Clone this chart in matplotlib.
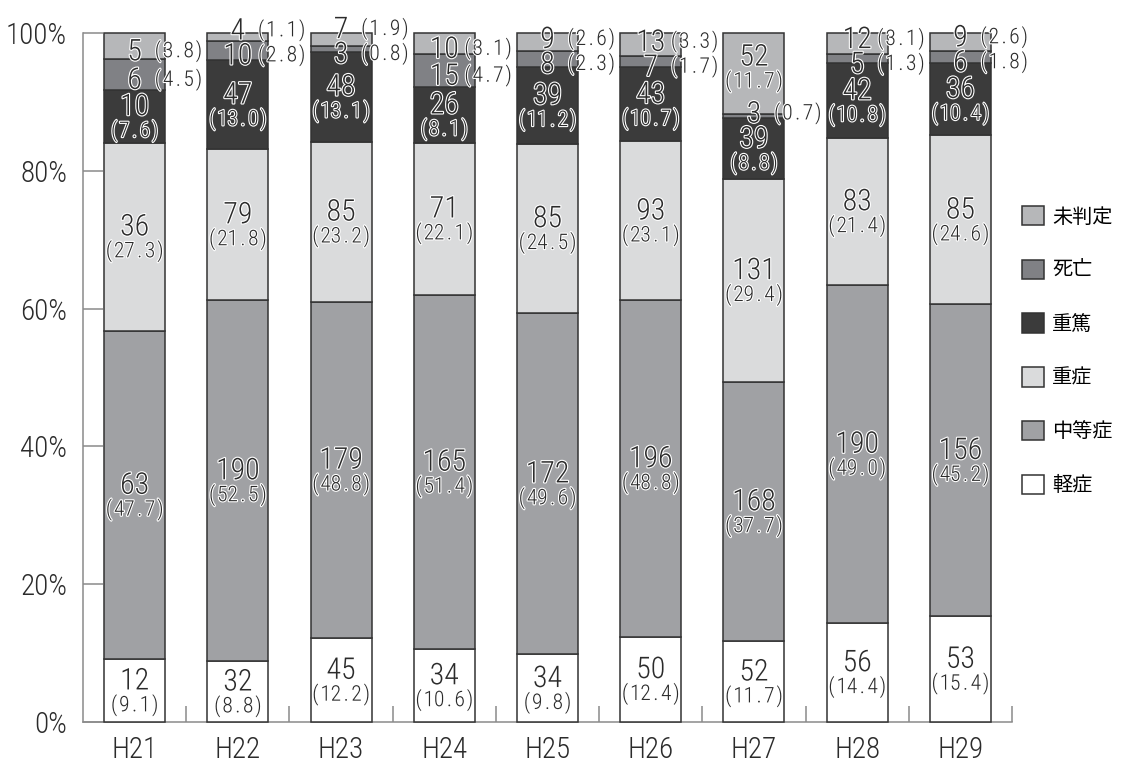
import numpy as np
import matplotlib
matplotlib.use("Agg")
import matplotlib.pyplot as plt
from matplotlib import font_manager as fm
from matplotlib import patheffects as pe
from matplotlib.patches import Patch

# ---- data: counts and shares (%) per fiscal year ----
years = ["H21", "H22", "H23", "H24", "H25", "H26", "H27", "H28", "H29"]
series_names = ["軽症", "中等症", "重症", "重篤", "死亡", "未判定"]

mild_n = [12, 32, 45, 34, 34, 50, 52, 56, 53]
mild_pct = [9.1, 8.8, 12.2, 10.6, 9.8, 12.4, 11.7, 14.4, 15.4]
moderate_n = [63, 190, 179, 165, 172, 196, 168, 190, 156]
moderate_pct = [47.7, 52.5, 48.8, 51.4, 49.6, 48.8, 37.7, 49.0, 45.2]
severe_n = [36, 79, 85, 71, 85, 93, 131, 83, 85]
severe_pct = [27.3, 21.8, 23.2, 22.1, 24.5, 23.1, 29.4, 21.4, 24.6]
critical_n = [10, 47, 48, 26, 39, 43, 39, 42, 36]
critical_pct = [7.6, 13.0, 13.1, 8.1, 11.2, 10.7, 8.8, 10.8, 10.4]
death_n = [6, 10, 3, 15, 8, 7, 3, 5, 6]
death_pct = [4.5, 2.8, 0.8, 4.7, 2.3, 1.7, 0.7, 1.3, 1.8]
undetermined_n = [5, 4, 7, 10, 9, 13, 52, 12, 9]
undetermined_pct = [3.8, 1.1, 1.9, 3.1, 2.6, 3.3, 11.7, 3.1, 2.6]

y_ticks = [0, 20, 40, 60, 80, 100]
y_tick_labels = ["0%", "20%", "40%", "60%", "80%", "100%"]

counts = [mild_n, moderate_n, severe_n, critical_n, death_n, undetermined_n]
shares = [mild_pct, moderate_pct, severe_pct, critical_pct, death_pct, undetermined_pct]
colors = ["#ffffff", "#a0a1a4", "#dadbdc", "#3b3b3b", "#808185", "#b6b7b9"]


# ---- fonts: prefer a light condensed sans for the numerals ----
def find_condensed():
    entries = fm.fontManager.ttflist

    def weight_of(f):
        w = f.weight
        if isinstance(w, str):
            w = {"light": 300, "normal": 400, "regular": 400, "book": 400}.get(w, 700)
        return w

    def pick(cands):
        for wanted in (300, 400):
            for f in cands:
                if f.style == "normal" and weight_of(f) == wanted:
                    return f.fname
        return None

    for name in ("Roboto Condensed", "Liberation Sans Narrow"):
        got = pick([f for f in entries if f.name == name])
        if got:
            return got
    for name in ("Roboto", "Noto Sans", "Open Sans", "DejaVu Sans"):
        for st in ("condensed", "semi-condensed"):
            got = pick([f for f in entries if f.name == name and f.stretch == st])
            if got:
                return got
    return fm.findfont(fm.FontProperties(family="Liberation Sans"))


NARROW_FILE = find_condensed()


def narrow(size):
    return fm.FontProperties(fname=NARROW_FILE, size=size)


CJK = ["Noto Sans CJK JP", "DejaVu Sans"]

INK = "#2b2b2b"
AXIS_GREY = "#8a8a8a"
EDGE = "#333333"
PX = 0.72  # points per pixel at 100 dpi

fig = plt.figure(figsize=(11.22, 7.64), dpi=100)
ax = fig.add_axes([83 / 1122, 1 - 722 / 764, 929 / 1122, 689 / 764])

x = np.arange(len(years))
bar_w = 0.59
bottom = np.zeros(len(years))
for vals, col in zip(shares, colors):
    ax.bar(x, vals, bottom=bottom, width=bar_w, color=col, edgecolor=EDGE,
           linewidth=1.1, clip_on=False, zorder=3)
    bottom += np.array(vals)

halo = [pe.withStroke(linewidth=1.6, foreground="white")]


def put(xv, yv, s, dx_px, dy_px, size, ha="center"):
    ax.annotate(s, (xv, yv), xytext=(dx_px * PX, dy_px * PX),
                textcoords="offset points", ha=ha, va="baseline",
                fontproperties=narrow(size), color=INK,
                path_effects=halo, annotation_clip=False, zorder=5)


NUM_SIZE = 21.5
PCT_SIZE = 15.5
CELL = 10.3          # fixed advance (px) for the bracketed share
NUM_HALF = 10.8      # half cap height of the count (px)
PCT_HALF = 7.7       # half digit height of the share (px)
NUM_UP = 12          # count sits this far above the segment middle (px)
PCT_DOWN = 13        # share sits this far below the segment middle (px)


def put_share(xv, yv, s, start_px, dy_px):
    for i, ch in enumerate(s):
        put(xv, yv, ch, start_px + (i + 0.5) * CELL, dy_px - PCT_HALF, PCT_SIZE)


px_per_pct = 689 / 100.0
gap = 25 / px_per_pct
bias = 0.5

for j in range(len(years)):
    base = 0.0
    last = -10.0
    for k in range(len(series_names)):
        n = counts[k][j]
        p = shares[k][j]
        center = base + p / 2
        txt = f"({p:.1f})"
        if p >= 5:
            # two-line label: count above, share below
            yc = max(center, last + (32 + PCT_DOWN) / px_per_pct)
            put(x[j], yc, str(n), 0, NUM_UP - NUM_HALF, NUM_SIZE)
            put_share(x[j], yc, txt, -len(txt) * CELL / 2, -PCT_DOWN)
            last = yc + NUM_UP / px_per_pct
        else:
            # single-line label running out to the right of the bar
            yv = max(center - bias, last + gap)
            put(x[j], yv, str(n), 0, -NUM_HALF, NUM_SIZE)
            put_share(x[j], yv, txt, 18, 0)
            last = yv
        base += p

# ---- axes styling ----
ax.set_xlim(-0.5, len(years) - 0.5)
ax.set_ylim(0, 100)
for side in ("top", "right"):
    ax.spines[side].set_visible(False)
for side in ("left", "bottom"):
    ax.spines[side].set_color(AXIS_GREY)
    ax.spines[side].set_linewidth(1.1)
ax.spines["left"].set_bounds(0, 100)

ax.set_yticks(y_ticks)
ax.set_yticklabels(y_tick_labels)
ax.tick_params(axis="y", direction="in", length=20 * PX, width=1.1,
               color=AXIS_GREY, pad=16 * PX, labelcolor=INK)

ax.set_xticks(x)
ax.set_xticklabels(years)
ax.set_xticks(np.arange(0.5, len(years), 1.0), minor=True)
ax.tick_params(axis="x", which="major", length=0, pad=14 * PX, labelcolor=INK)
ax.tick_params(axis="x", which="minor", direction="in", length=16 * PX,
               width=1.1, color=AXIS_GREY)
for lab in ax.get_xticklabels() + ax.get_yticklabels():
    lab.set_fontproperties(narrow(21))

# ---- legend (top category first) ----
handles = [Patch(facecolor=c, edgecolor=EDGE, linewidth=1.1) for c in colors][::-1]
labels = series_names[::-1]
fig.legend(handles, labels, loc="upper left",
           bbox_to_anchor=(1022 / 1122, 1 - 206 / 764), frameon=False,
           prop={"family": CJK, "size": 14.5}, handlelength=1.1,
           handleheight=1.1, labelspacing=1.6, handletextpad=0.4,
           borderpad=0, borderaxespad=0)

fig.savefig("out.png", dpi=100)
